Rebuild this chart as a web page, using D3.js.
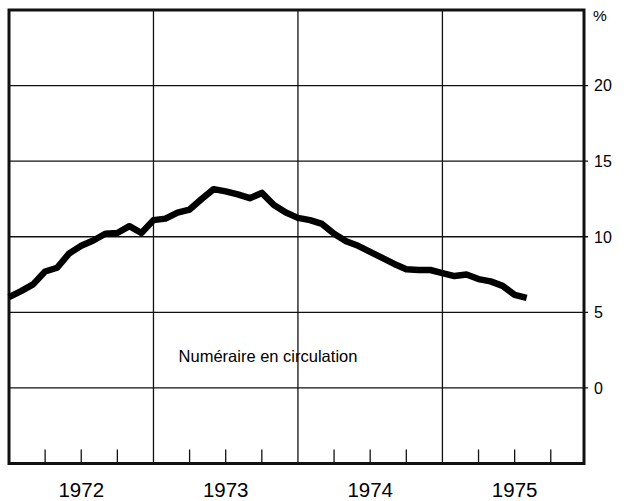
<!DOCTYPE html>
<html><head><meta charset="utf-8">
<script src="https://cdn.jsdelivr.net/npm/d3@7"></script>
<style>body{margin:0;background:#fff}svg{display:block}text{font-family:"Liberation Sans",Arial,sans-serif;fill:#000}</style>
</head><body><svg id="c" width="636" height="501"></svg>
<script>
const years = [1972, 1973, 1974, 1975];
const yTicks = [0, 5, 10, 15, 20];
const seriesLabel = "Numéraire en circulation";
// monthly values, Jan 1972 .. Aug 1975 (%)
const values = [6.0, 6.4, 6.85, 7.7, 7.95, 8.9, 9.4, 9.75, 10.2, 10.25, 10.7, 10.25,
  11.1, 11.2, 11.6, 11.8, 12.5, 13.15, 13.0, 12.8, 12.55, 12.9, 12.1, 11.6,
  11.25, 11.1, 10.85, 10.2, 9.7, 9.4, 9.0, 8.6, 8.2, 7.85, 7.8, 7.8,
  7.6, 7.4, 7.5, 7.2, 7.05, 6.75, 6.15, 5.95];

const svg = d3.select("#c");
const L = 9, R = 584, T = 10, B = 463.5;
const x = d3.scaleLinear().domain([1972, 1975.98]).range([L, R]);
const y = d3.scaleLinear().domain([-5, 25]).range([B, T]);
const data = values.map((v, i) => ({t: 1972 + i / 12, v}));

// horizontal grid
svg.append("g").selectAll("line").data(yTicks).join("line")
  .attr("x1", L).attr("x2", R + 4).attr("y1", d => y(d)).attr("y2", d => y(d))
  .attr("stroke", "#111").attr("stroke-width", 1.3);
// vertical year grid
svg.append("g").selectAll("line").data(years.slice(1)).join("line")
  .attr("x1", d => x(d)).attr("x2", d => x(d)).attr("y1", T).attr("y2", B)
  .attr("stroke", "#111").attr("stroke-width", 1.3);
// quarter ticks
const quarters = [];
years.forEach(yr => [0.25, 0.5, 0.75].forEach(q => quarters.push(yr + q)));
svg.append("g").selectAll("line").data(quarters).join("line")
  .attr("x1", d => x(d)).attr("x2", d => x(d)).attr("y1", B - 14).attr("y2", B)
  .attr("stroke", "#111").attr("stroke-width", 1.3);

// frame
svg.append("rect").attr("x", L).attr("y", T).attr("width", R - L).attr("height", B - T)
  .attr("fill", "none").attr("stroke", "#111").attr("stroke-width", 3);

// line
svg.append("path").datum(data)
  .attr("d", d3.line().x(d => x(d.t)).y(d => y(d.v)))
  .attr("fill", "none").attr("stroke", "#000").attr("stroke-width", 6.5)
  .attr("stroke-linejoin", "round").attr("stroke-linecap", "butt");

// right axis labels
svg.append("g").selectAll("text").data(yTicks).join("text")
  .attr("x", R + 10).attr("y", d => y(d)).attr("dy", "0.36em")
  .attr("font-size", 16).text(d => d);
svg.append("text").attr("x", R + 9).attr("y", 21).attr("font-size", 15.5).text("%");

// year labels
svg.append("g").selectAll("text").data(years).join("text")
  .attr("x", d => x(d + 0.5)).attr("y", 497).attr("text-anchor", "middle")
  .attr("font-size", 20.5).text(d => d);

// series label
svg.append("text").attr("x", 268).attr("y", 362).attr("text-anchor", "middle")
  .attr("font-size", 16.5).text(seriesLabel);
</script></body></html>
